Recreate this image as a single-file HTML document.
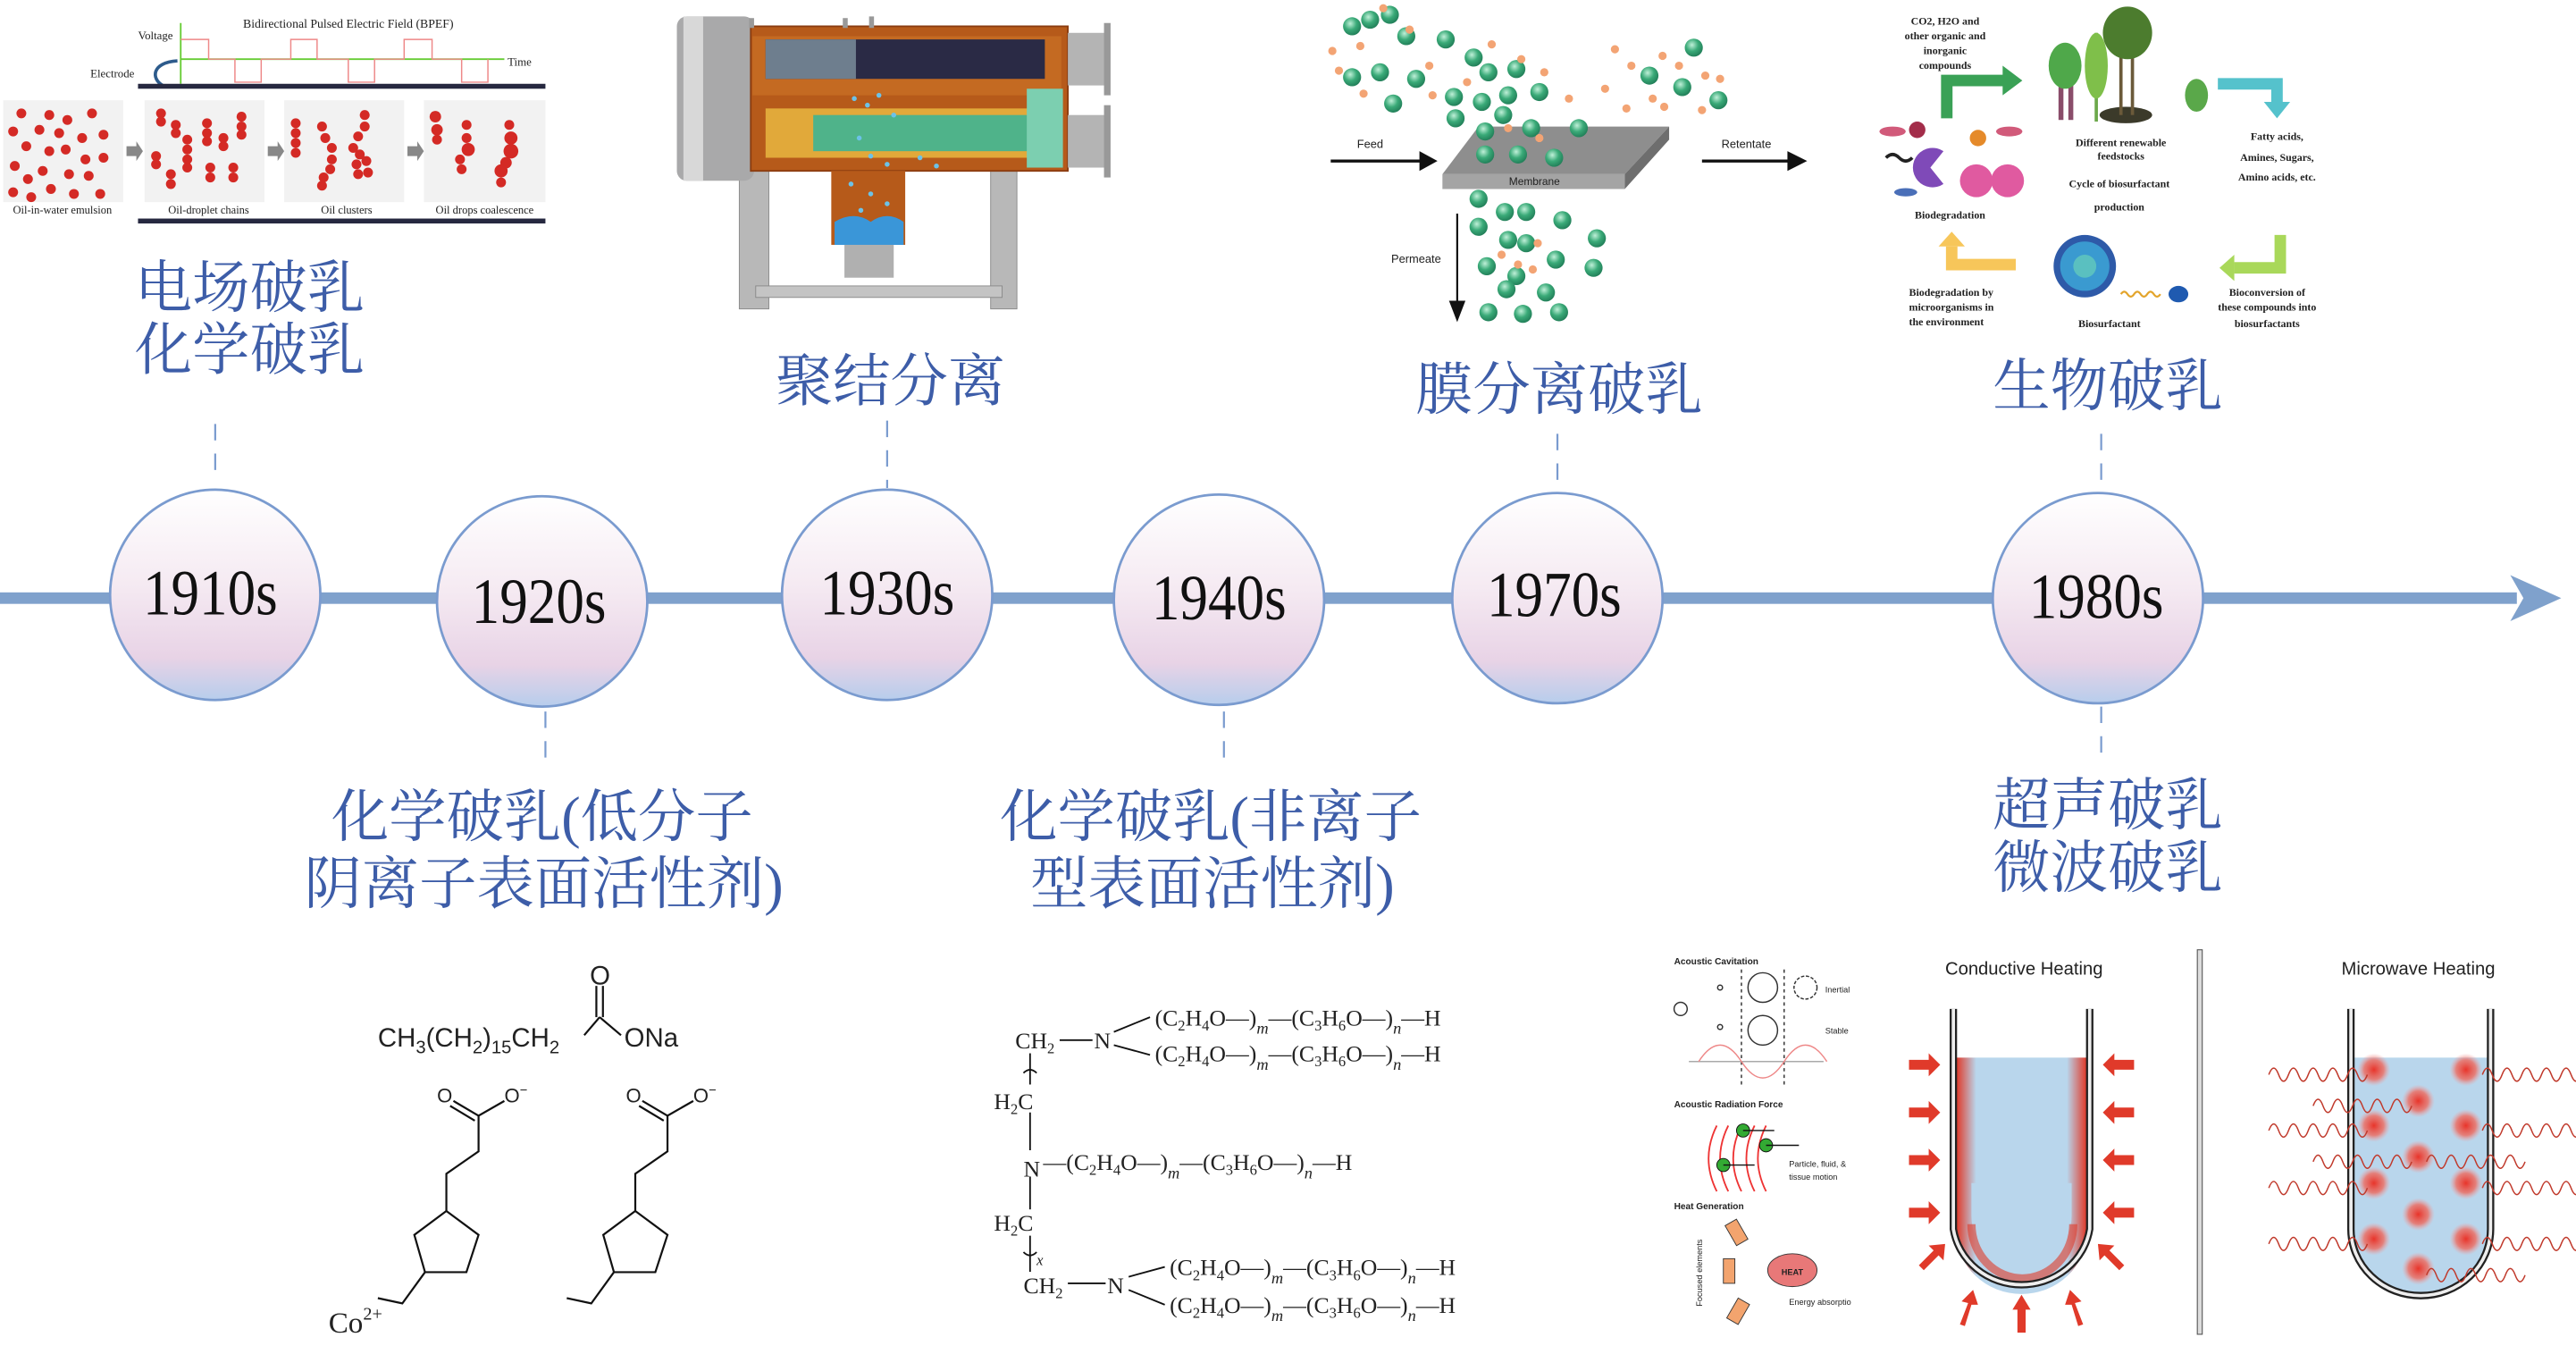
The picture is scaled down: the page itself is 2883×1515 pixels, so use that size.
<!DOCTYPE html>
<html><head><meta charset="utf-8"><style>
html,body{margin:0;padding:0;background:#fff;}
svg{display:block;}
.cj{font-family:"Liberation Serif","Noto Serif CJK SC",serif;fill:#3d5da8;font-size:35px;}
.yr{font-family:"Liberation Serif",serif;font-size:39px;fill:#111;}
.sm{font-family:"Liberation Serif",serif;fill:#222;}
.ss{font-family:"Liberation Sans",sans-serif;fill:#222;}
.bd{font-family:"Liberation Serif",serif;font-weight:bold;fill:#222;font-size:6.5px;}
</style></head><body>
<svg width="2883" height="1515" viewBox="0 0 1568 824" preserveAspectRatio="none" xmlns="http://www.w3.org/2000/svg">
<defs>
<linearGradient id="cg" x1="0" y1="0" x2="0" y2="1">
<stop offset="0" stop-color="#ffffff"/><stop offset="0.45" stop-color="#f5eaf2"/><stop offset="0.8" stop-color="#e8d3e6"/><stop offset="1" stop-color="#b7cdec"/></linearGradient>
<radialGradient id="gb" cx="0.4" cy="0.35" r="0.7"><stop offset="0" stop-color="#bff0d8"/><stop offset="0.5" stop-color="#3aaa78"/><stop offset="1" stop-color="#1f7a55"/></radialGradient>
<radialGradient id="rb"><stop offset="0" stop-color="#e8342a"/><stop offset="0.6" stop-color="#ee6a5e" stop-opacity="0.8"/><stop offset="1" stop-color="#f4a0a0" stop-opacity="0"/></radialGradient>
<linearGradient id="lq" x1="0" x2="1"><stop offset="0" stop-color="#e03a2a"/><stop offset="0.15" stop-color="#b9d6ec"/><stop offset="0.85" stop-color="#b9d6ec"/><stop offset="1" stop-color="#e03a2a"/></linearGradient>
</defs>

<!-- timeline -->
<rect x="0" y="360.5" width="1532" height="7" fill="#7fa1cc"/>
<polygon points="1528,350 1559,364 1528,378 1536,364" fill="#7fa1cc"/>
<g stroke="#7a9bcf" stroke-width="1.2" stroke-dasharray="10,8">
<line x1="131" y1="258" x2="131" y2="290"/>
<line x1="540" y1="256" x2="540" y2="297"/>
<line x1="948" y1="264" x2="948" y2="298"/>
<line x1="1279" y1="264" x2="1279" y2="298"/>
<line x1="332" y1="433" x2="332" y2="465"/>
<line x1="745" y1="433" x2="745" y2="465"/>
<line x1="1279" y1="430" x2="1279" y2="462"/>
</g>
<g fill="url(#cg)" stroke="#7a9bcf" stroke-width="1.5">
<circle cx="131" cy="362" r="64"/><circle cx="330" cy="366" r="64"/><circle cx="540" cy="362" r="64"/>
<circle cx="742" cy="365" r="64"/><circle cx="948" cy="364" r="64"/><circle cx="1277" cy="364" r="64"/>
</g>
<g class="yr" text-anchor="middle">
<text x="128" y="374" textLength="82" lengthAdjust="spacingAndGlyphs">1910s</text>
<text x="328" y="379" textLength="82" lengthAdjust="spacingAndGlyphs">1920s</text>
<text x="540" y="374" textLength="82" lengthAdjust="spacingAndGlyphs">1930s</text>
<text x="742" y="377" textLength="82" lengthAdjust="spacingAndGlyphs">1940s</text>
<text x="946" y="375" textLength="82" lengthAdjust="spacingAndGlyphs">1970s</text>
<text x="1276" y="376" textLength="82" lengthAdjust="spacingAndGlyphs">1980s</text>
</g>

<!-- labels -->
<g class="cj">
<text x="82" y="187">电场破乳</text>
<text x="82" y="225">化学破乳</text>
<text x="542" y="244" text-anchor="middle">聚结分离</text>
<text x="949" y="249" text-anchor="middle">膜分离破乳</text>
<text x="1283" y="247" text-anchor="middle">生物破乳</text>
<text x="330" y="509" text-anchor="middle">化学破乳(低分子</text>
<text x="331" y="550" text-anchor="middle">阴离子表面活性剂)</text>
<text x="737" y="509" text-anchor="middle">化学破乳(非离子</text>
<text x="738" y="550" text-anchor="middle">型表面活性剂)</text>
<text x="1283" y="502" text-anchor="middle">超声破乳</text>
<text x="1283" y="540" text-anchor="middle">微波破乳</text>
</g>

<!-- image 1: electric field -->
<g>
<text x="212" y="17" class="sm" font-size="7.5" text-anchor="middle">Bidirectional Pulsed Electric Field (BPEF)</text>
<text x="84" y="24" class="sm" font-size="7">Voltage</text>
<text x="55" y="47" class="sm" font-size="7" fill="#3a4f8a">Electrode</text>
<text x="309" y="40" class="sm" font-size="7">Time</text>
<line x1="110" y1="14" x2="110" y2="51" stroke="#6c3" stroke-width="1"/>
<line x1="110" y1="36" x2="307" y2="36" stroke="#6c3" stroke-width="1"/>
<polyline fill="none" stroke="#e88" stroke-width="0.8" points="110,24 127,24 127,36 143,36 143,50 159,50 159,36 177,36 177,24 193,24 193,36 212,36 212,50 228,50 228,36 246,36 246,24 263,24 263,36 281,36 281,50 297,50 297,36"/>
<path d="M99,52 C92,48 92,38 108,37" fill="none" stroke="#2d5b8c" stroke-width="2"/>
<rect x="84" y="51" width="248" height="3" fill="#262840"/>
<rect x="2" y="61" width="73" height="62" fill="#f2f2f2"/>
<rect x="88" y="61" width="73" height="62" fill="#f2f2f2"/>
<rect x="173" y="61" width="73" height="62" fill="#f2f2f2"/>
<rect x="258" y="61" width="74" height="62" fill="#f2f2f2"/>
<g fill="#888"><polygon points="77,89 83,89 83,86 87,92 83,98 83,95 77,95"/><polygon points="163,89 169,89 169,86 173,92 169,98 169,95 163,95"/><polygon points="248,89 254,89 254,86 258,92 254,98 254,95 248,95"/></g>
<g fill="#d42a25">
<circle cx="13" cy="69" r="3"/><circle cx="30" cy="70" r="3"/><circle cx="41" cy="73" r="3"/><circle cx="56" cy="69" r="3"/><circle cx="8" cy="80" r="3"/><circle cx="24" cy="79" r="3"/><circle cx="36" cy="81" r="3"/><circle cx="50" cy="84" r="3"/><circle cx="63" cy="82" r="3"/><circle cx="16" cy="89" r="3"/><circle cx="30" cy="92" r="3"/><circle cx="40" cy="91" r="3"/><circle cx="52" cy="97" r="3"/><circle cx="63" cy="96" r="3"/><circle cx="9" cy="101" r="3"/><circle cx="26" cy="104" r="3"/><circle cx="42" cy="106" r="3"/><circle cx="54" cy="107" r="3"/><circle cx="17" cy="109" r="3"/><circle cx="8" cy="117" r="3"/><circle cx="19" cy="120" r="3"/><circle cx="31" cy="115" r="3"/><circle cx="45" cy="118" r="3"/><circle cx="61" cy="118" r="3"/>
<circle cx="98" cy="69" r="3"/><circle cx="98" cy="74" r="3"/><circle cx="107" cy="76" r="3"/><circle cx="107" cy="81" r="3"/><circle cx="114" cy="85" r="3"/><circle cx="114" cy="91" r="3"/><circle cx="114" cy="97" r="3"/><circle cx="114" cy="102" r="3"/><circle cx="126" cy="75" r="3"/><circle cx="126" cy="81" r="3"/><circle cx="126" cy="86" r="3"/><circle cx="136" cy="84" r="3"/><circle cx="136" cy="89" r="3"/><circle cx="147" cy="71" r="3"/><circle cx="147" cy="77" r="3"/><circle cx="147" cy="82" r="3"/><circle cx="95" cy="95" r="3"/><circle cx="95" cy="100" r="3"/><circle cx="104" cy="106" r="3"/><circle cx="104" cy="112" r="3"/><circle cx="128" cy="102" r="3"/><circle cx="128" cy="108" r="3"/><circle cx="142" cy="102" r="3"/><circle cx="142" cy="108" r="3"/>
<circle cx="180" cy="75" r="3"/><circle cx="180" cy="81" r="3"/><circle cx="180" cy="87" r="3"/><circle cx="180" cy="93" r="3"/><circle cx="196" cy="77" r="3"/><circle cx="198" cy="84" r="3"/><circle cx="202" cy="90" r="3"/><circle cx="202" cy="97" r="3"/><circle cx="201" cy="103" r="3"/><circle cx="197" cy="108" r="3"/><circle cx="196" cy="113" r="3"/><circle cx="222" cy="70" r="3"/><circle cx="222" cy="77" r="3"/><circle cx="218" cy="83" r="3"/><circle cx="215" cy="90" r="3"/><circle cx="219" cy="94" r="3"/><circle cx="217" cy="100" r="3"/><circle cx="223" cy="98" r="3"/><circle cx="224" cy="105" r="3"/><circle cx="218" cy="106" r="3"/>
<circle cx="265" cy="71" r="3.5"/><circle cx="266" cy="79" r="3.5"/><circle cx="266" cy="85" r="3"/><circle cx="284" cy="76" r="3"/><circle cx="284" cy="84" r="3"/><circle cx="285" cy="91" r="4"/><circle cx="280" cy="97" r="3"/><circle cx="281" cy="103" r="3"/><circle cx="310" cy="76" r="3"/><circle cx="311" cy="84" r="4"/><circle cx="311" cy="92" r="4.5"/><circle cx="308" cy="99" r="3.5"/><circle cx="305" cy="104" r="4"/><circle cx="305" cy="111" r="3"/>
</g>
<g class="sm" font-size="6.8" text-anchor="middle"><text x="38" y="130">Oil-in-water emulsion</text><text x="127" y="130">Oil-droplet chains</text><text x="211" y="130">Oil clusters</text><text x="295" y="130">Oil drops coalescence</text></g>
<rect x="84" y="133" width="248" height="3" fill="#262840"/>
</g>

<!-- image 2: coalescer tank -->
<g>
<rect x="450" y="104" width="18" height="84" fill="#b8b8b8" stroke="#888" stroke-width="0.5"/>
<rect x="603" y="104" width="16" height="84" fill="#b8b8b8" stroke="#888" stroke-width="0.5"/>
<rect x="460" y="174" width="150" height="7" fill="#c4c4c4" stroke="#888" stroke-width="0.5"/>
<rect x="412" y="10" width="47" height="100" rx="6" fill="#a9a9aa"/>
<rect x="416" y="10" width="12" height="100" fill="#d8d8d8"/>
<rect x="457" y="16" width="193" height="88" fill="#b65a1a" stroke="#8a3c10"/>
<rect x="458" y="22" width="188" height="36" fill="#c46a22"/>
<rect x="466" y="24" width="170" height="24" fill="#2a2a45"/>
<rect x="466" y="24" width="55" height="24" fill="#6e7e8e"/>
<rect x="466" y="66" width="170" height="30" fill="#e1a93a"/>
<rect x="495" y="70" width="135" height="22" fill="#4fb38a"/>
<rect x="625" y="54" width="22" height="48" fill="#7ccfb0"/>
<rect x="506" y="104" width="45" height="45" fill="#b65a1a"/>
<path d="M508,135 Q520,128 530,135 Q540,128 550,135 L550,149 L508,149Z" fill="#3a96d8"/>
<rect x="514" y="149" width="30" height="20" fill="#b0b0b0"/>
<g fill="#6cc2e8"><circle cx="520" cy="60" r="1.5"/><circle cx="528" cy="64" r="1.5"/><circle cx="535" cy="58" r="1.5"/><circle cx="544" cy="70" r="1.5"/><circle cx="523" cy="84" r="1.5"/><circle cx="530" cy="95" r="1.5"/><circle cx="540" cy="100" r="1.5"/><circle cx="518" cy="112" r="1.5"/><circle cx="530" cy="118" r="1.5"/><circle cx="540" cy="124" r="1.5"/><circle cx="524" cy="128" r="1.5"/><circle cx="560" cy="96" r="1.5"/><circle cx="570" cy="101" r="1.5"/></g>
<rect x="650" y="20" width="25" height="32" fill="#b4b4b4"/><rect x="672" y="14" width="4" height="44" fill="#999"/>
<rect x="650" y="70" width="25" height="32" fill="#b4b4b4"/><rect x="672" y="64" width="4" height="44" fill="#999"/>
<rect x="456" y="11" width="3" height="6" fill="#999"/><rect x="513" y="11" width="3" height="6" fill="#999"/><rect x="529" y="10" width="3" height="7" fill="#999"/>
</g>

<!-- image 3: membrane -->
<g>
<polygon points="900,77 1016,77 989,106 878,106" fill="#8e8e8e"/>
<polygon points="878,106 989,106 989,115 878,115" fill="#a4a4a4"/>
<polygon points="989,106 1016,77 1016,85 989,115" fill="#6e6e6e"/>
<text x="934" y="112.5" class="ss" font-size="6.5" text-anchor="middle">Membrane</text>
<line x1="810" y1="98" x2="866" y2="98" stroke="#111" stroke-width="1.8"/><polygon points="864,92 875,98 864,104" fill="#111"/>
<line x1="1036" y1="98" x2="1090" y2="98" stroke="#111" stroke-width="1.8"/><polygon points="1088,92 1100,98 1088,104" fill="#111"/>
<line x1="887" y1="130" x2="887" y2="185" stroke="#111" stroke-width="1.2"/><polygon points="882,183 887,196 892,183" fill="#111"/>
<text x="834" y="90" class="ss" font-size="7" text-anchor="middle">Feed</text>
<text x="1063" y="90" class="ss" font-size="7" text-anchor="middle">Retentate</text>
<text x="862" y="160" class="ss" font-size="7" text-anchor="middle">Permeate</text>
<g fill="url(#gb)">
<circle cx="823" cy="16" r="5.5"/><circle cx="834" cy="12" r="5.5"/><circle cx="846" cy="9" r="5.5"/><circle cx="856" cy="22" r="5.5"/><circle cx="823" cy="47" r="5.5"/><circle cx="840" cy="44" r="5.5"/><circle cx="848" cy="63" r="5.5"/><circle cx="862" cy="48" r="5.5"/><circle cx="880" cy="24" r="5.5"/><circle cx="897" cy="35" r="5.5"/><circle cx="906" cy="44" r="5.5"/><circle cx="923" cy="42" r="5.5"/><circle cx="885" cy="59" r="5.5"/><circle cx="902" cy="62" r="5.5"/><circle cx="918" cy="58" r="5.5"/><circle cx="937" cy="56" r="5.5"/><circle cx="886" cy="72" r="5.5"/><circle cx="904" cy="80" r="5.5"/><circle cx="915" cy="70" r="5.5"/><circle cx="932" cy="78" r="5.5"/><circle cx="961" cy="78" r="5.5"/><circle cx="904" cy="94" r="5.5"/><circle cx="924" cy="94" r="5.5"/><circle cx="946" cy="96" r="5.5"/><circle cx="1004" cy="46" r="5.5"/><circle cx="1031" cy="29" r="5.5"/><circle cx="1024" cy="53" r="5.5"/><circle cx="1046" cy="61" r="5.5"/>
<circle cx="900" cy="121" r="5.5"/><circle cx="916" cy="129" r="5.5"/><circle cx="929" cy="129" r="5.5"/><circle cx="951" cy="134" r="5.5"/><circle cx="900" cy="138" r="5.5"/><circle cx="918" cy="146" r="5.5"/><circle cx="929" cy="148" r="5.5"/><circle cx="972" cy="145" r="5.5"/><circle cx="905" cy="162" r="5.5"/><circle cx="923" cy="168" r="5.5"/><circle cx="947" cy="158" r="5.5"/><circle cx="970" cy="163" r="5.5"/><circle cx="917" cy="176" r="5.5"/><circle cx="941" cy="178" r="5.5"/><circle cx="906" cy="190" r="5.5"/><circle cx="927" cy="191" r="5.5"/><circle cx="949" cy="190" r="5.5"/>
</g>
<g fill="#f3a474"><circle cx="842" cy="5" r="2.5"/><circle cx="811" cy="31" r="2.5"/><circle cx="828" cy="28" r="2.5"/><circle cx="815" cy="43" r="2.5"/><circle cx="830" cy="57" r="2.5"/><circle cx="858" cy="18" r="2.5"/><circle cx="870" cy="40" r="2.5"/><circle cx="872" cy="58" r="2.5"/><circle cx="893" cy="50" r="2.5"/><circle cx="908" cy="27" r="2.5"/><circle cx="926" cy="36" r="2.5"/><circle cx="940" cy="44" r="2.5"/><circle cx="918" cy="78" r="2.5"/><circle cx="937" cy="84" r="2.5"/><circle cx="955" cy="60" r="2.5"/><circle cx="977" cy="54" r="2.5"/><circle cx="983" cy="30" r="2.5"/><circle cx="993" cy="40" r="2.5"/><circle cx="1012" cy="34" r="2.5"/><circle cx="1022" cy="40" r="2.5"/><circle cx="1006" cy="60" r="2.5"/><circle cx="1013" cy="65" r="2.5"/><circle cx="1038" cy="46" r="2.5"/><circle cx="1036" cy="67" r="2.5"/><circle cx="1047" cy="48" r="2.5"/><circle cx="990" cy="66" r="2.5"/>
<circle cx="914" cy="155" r="2.5"/><circle cx="936" cy="148" r="2.5"/><circle cx="924" cy="161" r="2.5"/><circle cx="933" cy="164" r="2.5"/></g>
</g>

<!-- image 4: biosurfactant cycle -->
<g>
<g class="bd" text-anchor="middle"><text x="1184" y="15">CO2, H2O and</text><text x="1184" y="24">other organic and</text><text x="1184" y="33">inorganic</text><text x="1184" y="42">compounds</text></g>
<path d="M1185,72 L1185,49 L1222,49" fill="none" stroke="#3aa156" stroke-width="7"/><polygon points="1219,40 1231,49 1219,58" fill="#3aa156"/>
<path d="M1350,51 L1386,51 L1386,62" fill="none" stroke="#55c2cc" stroke-width="7"/><polygon points="1378,62 1386,72 1394,62" fill="#55c2cc"/>
<path d="M1227,161 L1188,161 L1188,150" fill="none" stroke="#f7c65a" stroke-width="7"/><polygon points="1180,150 1188,141 1196,150" fill="#f7c65a"/>
<path d="M1388,143 L1388,163 L1360,163" fill="none" stroke="#a9d85a" stroke-width="7"/><polygon points="1360,155 1351,163 1360,171" fill="#a9d85a"/>
<g>
<rect x="1253" y="40" width="3" height="33" fill="#8a4d6a"/><rect x="1259" y="35" width="3" height="38" fill="#8a4d6a"/><ellipse cx="1257" cy="40" rx="10" ry="14" fill="#4fa84a"/>
<rect x="1275" y="20" width="2" height="54" fill="#6ca84a"/><ellipse cx="1276" cy="40" rx="7" ry="20" fill="#7fbf4a"/>
<ellipse cx="1294" cy="70" rx="16" ry="5" fill="#3b3a2a"/><rect x="1290" y="30" width="2" height="40" fill="#6b5a3a"/><rect x="1297" y="30" width="2" height="40" fill="#6b5a3a"/><ellipse cx="1295" cy="20" rx="15" ry="16" fill="#4c7c2e"/>
<ellipse cx="1337" cy="58" rx="7" ry="10" fill="#5aa84a"/>
</g>
<g class="bd" text-anchor="middle"><text x="1291" y="89">Different renewable</text><text x="1291" y="97">feedstocks</text><text x="1290" y="114">Cycle of biosurfactant</text><text x="1290" y="128">production</text>
<text x="1386" y="85">Fatty acids,</text><text x="1386" y="98">Amines, Sugars,</text><text x="1386" y="110">Amino acids, etc.</text>
<text x="1187" y="133">Biodegradation</text><text x="1284" y="199">Biosurfactant</text>
<text x="1380" y="180">Bioconversion of</text><text x="1380" y="189">these compounds into</text><text x="1380" y="199">biosurfactants</text></g>
<g class="bd"><text x="1162" y="180">Biodegradation by</text><text x="1162" y="189">microorganisms in</text><text x="1162" y="198">the environment</text></g>
<ellipse cx="1152" cy="80" rx="8" ry="3" fill="#d15a7a"/><circle cx="1167" cy="79" r="5" fill="#a32d4a"/><circle cx="1204" cy="84" r="5" fill="#e58a2a"/><ellipse cx="1223" cy="80" rx="8" ry="3" fill="#d15a7a"/>
<path d="M1183,92 A12,12 0 1 0 1183,112 L1175,102Z" fill="#7f4ab8"/>
<circle cx="1203" cy="110" r="10" fill="#e05aa0"/><circle cx="1222" cy="110" r="10" fill="#e05aa0"/>
<path d="M1148,96 q4,-4 8,0 q4,4 8,0" stroke="#222" stroke-width="2" fill="none"/>
<ellipse cx="1160" cy="117" rx="7" ry="2.5" fill="#4a6fb8"/>
<circle cx="1269" cy="162" r="19" fill="#2e5aa8"/><circle cx="1269" cy="162" r="15" fill="#3a9ad0"/><circle cx="1269" cy="162" r="7" fill="#5ac0c0"/>
<path d="M1291,179 q2,-3 4,0 q2,3 4,0 q2,-3 4,0 q2,3 4,0 q2,-3 4,0 q2,3 4,0" stroke="#e3a42a" stroke-width="1.2" fill="none"/>
<ellipse cx="1326" cy="179" rx="6" ry="5" fill="#1f5ab0"/>
</g>

<!-- image 5: anionic structures -->
<g stroke="#111" stroke-width="1.2" fill="none">
<line x1="355.6" y1="630" x2="365" y2="619"/><line x1="365" y1="619" x2="378" y2="630"/>
<line x1="363" y1="619" x2="363" y2="600"/><line x1="367" y1="619" x2="367" y2="600"/>
<polyline points="307,670 291.3,679 291.3,700.7 271.7,714.3 271.7,737"/>
<line x1="291.3" y1="679" x2="276" y2="670"/><line x1="289" y1="682" x2="274" y2="673"/>
<polygon points="271.7,737 291.3,751.5 283.9,774.2 258.7,774.2 252.2,751.5"/>
<polyline points="258.7,774.2 244.9,793.2 230,790"/>
<g transform="translate(115,0)">
<polyline points="307,670 291.3,679 291.3,700.7 271.7,714.3 271.7,737"/>
<line x1="291.3" y1="679" x2="276" y2="670"/><line x1="289" y1="682" x2="274" y2="673"/>
<polygon points="271.7,737 291.3,751.5 283.9,774.2 258.7,774.2 252.2,751.5"/>
<polyline points="258.7,774.2 244.9,793.2 230,790"/>
</g>
</g>
<g class="ss" font-size="16">
<text x="230" y="637">CH<tspan font-size="11" dy="4">3</tspan><tspan dy="-4">(CH</tspan><tspan font-size="11" dy="4">2</tspan><tspan dy="-4">)</tspan><tspan font-size="11" dy="4">15</tspan><tspan dy="-4">CH</tspan><tspan font-size="11" dy="4">2</tspan></text>
<text x="359" y="599">O</text><text x="380" y="637">ONa</text>
</g>
<g class="ss" font-size="12"><text x="266" y="671">O</text><text x="307" y="671">O<tspan font-size="8" dy="-5">−</tspan></text>
<text x="381" y="671">O</text><text x="422" y="671">O<tspan font-size="8" dy="-5">−</tspan></text></g>
<text x="200" y="811" class="sm" font-size="18">Co<tspan font-size="11" dy="-8">2+</tspan></text>

<!-- image 6: nonionic structure -->
<g class="sm" font-size="14">
<text x="618" y="638">CH<tspan font-size="9" dy="3">2</tspan></text>
<text x="666" y="638">N</text>
<text x="623" y="716">N</text>
<text x="605" y="675">H<tspan font-size="9" dy="3">2</tspan><tspan dy="-3">C</tspan></text>
<text x="605" y="749">H<tspan font-size="9" dy="3">2</tspan><tspan dy="-3">C</tspan></text>
<text x="623" y="787">CH<tspan font-size="9" dy="3">2</tspan></text>
<text x="674" y="787">N</text>
<text x="631" y="770" font-size="9" font-style="italic">x</text>
<text x="703" y="624">(C<tspan font-size="9" dy="3">2</tspan><tspan dy="-3">H</tspan><tspan font-size="9" dy="3">4</tspan><tspan dy="-3">O—)</tspan><tspan font-size="10" dy="5" font-style="italic">m</tspan><tspan dy="-5">—(C</tspan><tspan font-size="9" dy="3">3</tspan><tspan dy="-3">H</tspan><tspan font-size="9" dy="3">6</tspan><tspan dy="-3">O—)</tspan><tspan font-size="10" dy="5" font-style="italic">n</tspan><tspan dy="-5">—H</tspan></text>
<text x="703" y="646">(C<tspan font-size="9" dy="3">2</tspan><tspan dy="-3">H</tspan><tspan font-size="9" dy="3">4</tspan><tspan dy="-3">O—)</tspan><tspan font-size="10" dy="5" font-style="italic">m</tspan><tspan dy="-5">—(C</tspan><tspan font-size="9" dy="3">3</tspan><tspan dy="-3">H</tspan><tspan font-size="9" dy="3">6</tspan><tspan dy="-3">O—)</tspan><tspan font-size="10" dy="5" font-style="italic">n</tspan><tspan dy="-5">—H</tspan></text>
<text x="635" y="712">—(C<tspan font-size="9" dy="3">2</tspan><tspan dy="-3">H</tspan><tspan font-size="9" dy="3">4</tspan><tspan dy="-3">O—)</tspan><tspan font-size="10" dy="5" font-style="italic">m</tspan><tspan dy="-5">—(C</tspan><tspan font-size="9" dy="3">3</tspan><tspan dy="-3">H</tspan><tspan font-size="9" dy="3">6</tspan><tspan dy="-3">O—)</tspan><tspan font-size="10" dy="5" font-style="italic">n</tspan><tspan dy="-5">—H</tspan></text>
<text x="712" y="776">(C<tspan font-size="9" dy="3">2</tspan><tspan dy="-3">H</tspan><tspan font-size="9" dy="3">4</tspan><tspan dy="-3">O—)</tspan><tspan font-size="10" dy="5" font-style="italic">m</tspan><tspan dy="-5">—(C</tspan><tspan font-size="9" dy="3">3</tspan><tspan dy="-3">H</tspan><tspan font-size="9" dy="3">6</tspan><tspan dy="-3">O—)</tspan><tspan font-size="10" dy="5" font-style="italic">n</tspan><tspan dy="-5">—H</tspan></text>
<text x="712" y="799">(C<tspan font-size="9" dy="3">2</tspan><tspan dy="-3">H</tspan><tspan font-size="9" dy="3">4</tspan><tspan dy="-3">O—)</tspan><tspan font-size="10" dy="5" font-style="italic">m</tspan><tspan dy="-5">—(C</tspan><tspan font-size="9" dy="3">3</tspan><tspan dy="-3">H</tspan><tspan font-size="9" dy="3">6</tspan><tspan dy="-3">O—)</tspan><tspan font-size="10" dy="5" font-style="italic">n</tspan><tspan dy="-5">—H</tspan></text>
</g>
<g stroke="#111" stroke-width="1" fill="none">
<line x1="645" y1="633" x2="665" y2="633"/><line x1="678" y1="628" x2="700" y2="619"/><line x1="678" y1="636" x2="700" y2="642"/>
<line x1="627" y1="641" x2="627" y2="660"/><line x1="627" y1="677" x2="627" y2="700"/><line x1="627" y1="716" x2="627" y2="736"/><line x1="627" y1="752" x2="627" y2="774"/>
<line x1="650" y1="781" x2="673" y2="781"/><line x1="687" y1="777" x2="709" y2="771"/><line x1="687" y1="785" x2="709" y2="794"/>
<path d="M623,653 q4,-4 8,0"/><path d="M623,762 q4,4 8,0"/>
</g>

<!-- image 7: ultrasound / microwave -->
<g>
<text x="1019" y="587" class="ss" font-size="5.5" font-weight="bold">Acoustic Cavitation</text>
<text x="1019" y="674" class="ss" font-size="5.5" font-weight="bold">Acoustic Radiation Force</text>
<text x="1019" y="736" class="ss" font-size="5.5" font-weight="bold">Heat Generation</text>
<g fill="none" stroke="#333" stroke-width="0.8">
<circle cx="1023" cy="614" r="4"/><circle cx="1047" cy="601" r="1.5"/><circle cx="1047" cy="625" r="1.5"/>
<circle cx="1073" cy="601" r="9"/><circle cx="1073" cy="627" r="9"/><circle cx="1099" cy="601" r="7" stroke-dasharray="2,1"/>
<line x1="1060" y1="590" x2="1060" y2="660" stroke-dasharray="2,2"/><line x1="1086" y1="590" x2="1086" y2="660" stroke-dasharray="2,2"/>
<line x1="1028" y1="646" x2="1110" y2="646" stroke="#aaa"/>
</g>
<path d="M1034,646 Q1047,626 1060,646 T1086,646 T1112,646" fill="none" stroke="#e88" stroke-width="0.8"/>
<text x="1111" y="604" class="ss" font-size="5">Inertial</text><text x="1111" y="629" class="ss" font-size="5">Stable</text>
<g fill="none" stroke="#e33" stroke-width="1"><path d="M1045,685 q-10,20 0,40"/><path d="M1052,685 q-10,20 0,40"/><path d="M1060,685 q-10,20 0,40"/><path d="M1068,685 q-10,20 0,40"/><path d="M1075,685 q-10,20 0,40"/></g>
<g fill="#3a3" stroke="#111" stroke-width="0.5"><circle cx="1061" cy="688" r="4"/><circle cx="1075" cy="697" r="4"/><circle cx="1049" cy="709" r="4"/></g>
<g stroke="#111" stroke-width="0.8"><line x1="1061" y1="688" x2="1080" y2="688"/><line x1="1075" y1="697" x2="1095" y2="697"/><line x1="1049" y1="709" x2="1068" y2="709"/></g>
<text x="1089" y="710" class="ss" font-size="5">Particle, fluid, &amp;</text><text x="1089" y="718" class="ss" font-size="5">tissue motion</text>
<g fill="#f3a46e" stroke="#333" stroke-width="0.5"><rect x="1053" y="743" width="8" height="14" transform="rotate(-30 1057 750)"/><rect x="1049" y="766" width="7" height="15"/><rect x="1054" y="791" width="8" height="14" transform="rotate(30 1058 798)"/></g>
<ellipse cx="1091" cy="773" rx="15" ry="10" fill="#e87878" stroke="#333" stroke-width="0.5"/>
<text x="1091" y="776" class="ss" font-size="5" font-weight="bold" text-anchor="middle">HEAT</text>
<text x="1089" y="794" class="ss" font-size="5">Energy absorptio</text>
<text x="1036" y="795" class="ss" font-size="5" transform="rotate(-90 1036 795)">Focused elements</text>

<text x="1232" y="593" class="ss" font-size="11" text-anchor="middle">Conductive Heating</text>
<text x="1472" y="593" class="ss" font-size="11" text-anchor="middle">Microwave Heating</text>
<rect x="1337.5" y="578" width="3" height="234" fill="#ddd" stroke="#555" stroke-width="0.6"/>

<path d="M1191,643.6 L1191,750 A39,37 0 0 0 1270,750 L1270,643.6Z" fill="url(#lq)"/>
<path d="M1200,740 A30,30 0 0 0 1261,740 L1261,720 L1200,720Z" fill="#b9d6ec"/>
<path d="M1200,745 A31,33 0 0 0 1262,745" fill="none" stroke="#e03a2a" stroke-width="5" opacity="0.6"/>
<path d="M1189,614 L1189,748 A42,40 0 0 0 1272,748 L1272,614" fill="none" stroke="#222" stroke-width="4.5"/>
<path d="M1189,614 L1189,748 A42,40 0 0 0 1272,748 L1272,614" fill="none" stroke="#eee" stroke-width="2"/>
<g fill="#e03a2a">
<polygon points="1162,645 1174,645 1174,641 1181,648 1174,655 1174,651 1162,651"/><polygon points="1162,674 1174,674 1174,670 1181,677 1174,684 1174,680 1162,680"/><polygon points="1162,703 1174,703 1174,699 1181,706 1174,713 1174,709 1162,709"/><polygon points="1162,735 1174,735 1174,731 1181,738 1174,745 1174,741 1162,741"/>
<polygon points="1299,645 1287,645 1287,641 1280,648 1287,655 1287,651 1299,651"/><polygon points="1299,674 1287,674 1287,670 1280,677 1287,684 1287,680 1299,680"/><polygon points="1299,703 1287,703 1287,699 1280,706 1287,713 1287,709 1299,709"/><polygon points="1299,735 1287,735 1287,731 1280,738 1287,745 1287,741 1299,741"/>
<polygon points="1168,770 1177,761 1174,758 1184,757 1183,767 1180,764 1171,773"/><polygon points="1293,770 1284,761 1287,758 1277,757 1278,767 1281,764 1290,773"/>
<polygon points="1193,806 1198,793 1194,792 1201,785 1204,794 1200,794 1196,807"/><polygon points="1268,806 1263,793 1267,792 1260,785 1257,794 1261,794 1265,807"/>
<polygon points="1228,811 1228,797 1225,797 1230.5,788 1236,797 1233,797 1233,811"/>
</g>

<path d="M1432,643.6 L1432,750 A40,37 0 0 0 1515,750 L1515,643.6Z" fill="#b9d6ec"/>
<g fill="url(#rb)"><circle cx="1445" cy="651" r="10"/><circle cx="1501" cy="651" r="10"/><circle cx="1472" cy="670" r="10"/><circle cx="1445" cy="685" r="10"/><circle cx="1501" cy="685" r="10"/><circle cx="1472" cy="704" r="10"/><circle cx="1445" cy="720" r="10"/><circle cx="1501" cy="720" r="10"/><circle cx="1472" cy="739" r="10"/><circle cx="1445" cy="754" r="10"/><circle cx="1501" cy="754" r="10"/><circle cx="1472" cy="772" r="10"/></g>
<path d="M1431,614 L1431,748 A42,40 0 0 0 1516,748 L1516,614" fill="none" stroke="#222" stroke-width="4.5"/>
<path d="M1431,614 L1431,748 A42,40 0 0 0 1516,748 L1516,614" fill="none" stroke="#eee" stroke-width="2"/>
<g fill="none" stroke="#c0392b" stroke-width="0.8">
<path id="wv" d="M1381,654 q3,-8 6,0 q3,8 6,0 q3,-8 6,0 q3,8 6,0 q3,-8 6,0 q3,8 6,0 q3,-8 6,0 q3,8 6,0 q3,-8 6,0 q3,8 6,0"/>
<use href="#wv" y="34"/><use href="#wv" y="69"/><use href="#wv" y="103"/>
<use href="#wv" x="27" y="19"/><use href="#wv" x="27" y="53"/>
<use href="#wv" x="130" y="0"/><use href="#wv" x="130" y="34"/><use href="#wv" x="130" y="69"/><use href="#wv" x="130" y="103"/>
<use href="#wv" x="96" y="53"/><use href="#wv" x="96" y="122"/>
</g>
</g>
</svg>
</body></html>
